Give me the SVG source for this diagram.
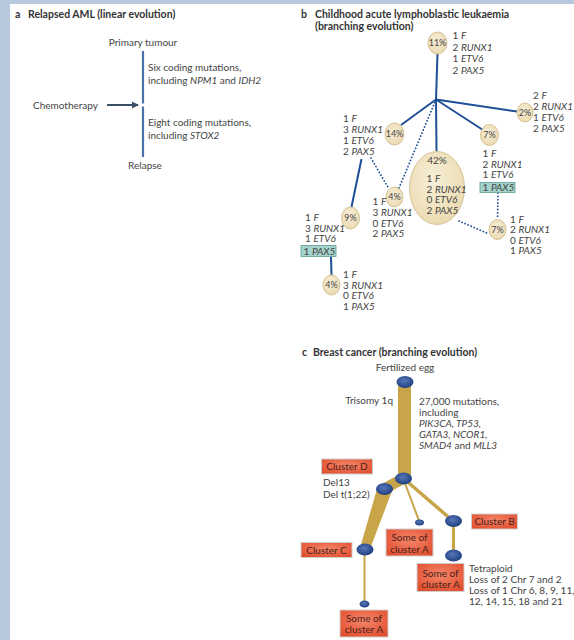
<svg xmlns="http://www.w3.org/2000/svg" width="574" height="640" viewBox="0 0 574 640">
<defs>
<style>
text{font-family:Lato,"Open Sans","Liberation Sans",sans-serif;fill:#444;font-size:10px}
.ttl{font-weight:bold;font-size:10.5px;fill:#333}
.i{font-style:italic}
.pc{font-size:9px;text-anchor:middle;fill:#444}
.mid{text-anchor:middle}
.bl{stroke:#1f4f96;stroke-width:2;fill:none}
.dot{stroke:#1f4f96;stroke-width:1.8;fill:none;stroke-dasharray:0.1 3.2;stroke-linecap:round}
.cl{fill:url(#cg);stroke:#cbb887;stroke-width:0.8}
.tb{fill:#a3d3cb;stroke:#5f9c94;stroke-width:0.8}
.rb{fill:url(#rg);stroke:#cfcfcf;stroke-width:1}
.rt{fill:#4a2018;font-size:10px;text-anchor:middle}
.nd{fill:url(#ng)}
.gd{stroke:#c9a54a;fill:none}
</style>
<radialGradient id="cg" cx="0.45" cy="0.4" r="0.65">
<stop offset="0" stop-color="#f7efd8"/><stop offset="1" stop-color="#ead9ae"/>
</radialGradient>
<radialGradient id="ng" cx="0.45" cy="0.4" r="0.6">
<stop offset="0" stop-color="#5677b8"/><stop offset="1" stop-color="#1f3f80"/>
</radialGradient>
<radialGradient id="rg" cx="0.5" cy="0.4" r="0.7">
<stop offset="0" stop-color="#f5866a"/><stop offset="1" stop-color="#e04c2c"/>
</radialGradient>
<marker id="ah" markerWidth="8" markerHeight="8" refX="6" refY="4" orient="auto" markerUnits="userSpaceOnUse">
<path d="M0,0.5 L7,4 L0,7.5 z" fill="#3b4f66"/>
</marker>
</defs>
<rect x="0" y="0" width="574" height="640" fill="#fff"/>
<rect x="0" y="0" width="574" height="4" fill="#b8c9de"/>
<rect x="0" y="0" width="10" height="640" fill="#b8c9de"/>

<!-- Panel a -->
<g id="panel-a">
<text x="15" y="18" class="ttl">a</text>
<text x="28" y="18" class="ttl">Relapsed AML (linear evolution)</text>
<g id="a-primary"><text x="143" y="46" class="mid">Primary tumour</text></g>
<g id="a-relapse"><text x="145" y="169" class="mid">Relapse</text></g>
<g id="a-chemo"><text x="33" y="109">Chemotherapy</text></g>
<text x="148" y="71">Six coding mutations,</text>
<text x="148" y="84">including <tspan class="i">NPM1</tspan> and <tspan class="i">IDH2</tspan></text>
<text x="148" y="126">Eight coding mutations,</text>
<text x="148" y="139">including <tspan class="i">STOX2</tspan></text>
</g>
<g id="a-connectors">
<line x1="143" y1="51" x2="143" y2="103.5" stroke="#4a72a8" stroke-width="2.2"/>
<line x1="143" y1="106.5" x2="143" y2="157" stroke="#4a72a8" stroke-width="2.2"/>
<line x1="107" y1="105" x2="138" y2="105" stroke="#3b4f66" stroke-width="2" marker-end="url(#ah)"/>
</g>

<!-- Panel b -->
<text x="301" y="18" class="ttl">b</text>
<text x="315" y="18" class="ttl">Childhood acute lymphoblastic leukaemia</text>
<text x="315" y="30" class="ttl">(branching evolution)</text>

<g id="b-connectors">
<line x1="437.5" y1="54" x2="436" y2="99.5" class="bl"/>
<line x1="436" y1="99.5" x2="517" y2="111.5" class="bl"/>
<line x1="436" y1="99.5" x2="401" y2="125" class="bl"/>
<line x1="436" y1="99.5" x2="483" y2="130" class="bl"/>
<line x1="436" y1="99.5" x2="436.5" y2="151" class="bl"/>
<line x1="436" y1="99.5" x2="399" y2="188" class="dot"/>
<line x1="371" y1="158" x2="389" y2="189" class="dot"/>
<line x1="361.5" y1="159" x2="351.5" y2="207" class="bl"/>
<line x1="331" y1="257" x2="331.5" y2="275" class="bl"/>
<line x1="498" y1="193" x2="497.5" y2="219" class="dot"/>
<line x1="459" y1="221" x2="489" y2="234" class="dot"/>
</g>

<g id="b-n11">
<ellipse cx="437.5" cy="43" rx="9.5" ry="11" class="cl"/>
<text x="437.5" y="46" class="pc">11%</text>
<text x="452.5" y="39">1 <tspan class="i">F</tspan></text>
<text x="452.5" y="50.5">2 <tspan class="i">RUNX1</tspan></text>
<text x="452.5" y="62">1 <tspan class="i">ETV6</tspan></text>
<text x="452.5" y="73.5">2 <tspan class="i">PAX5</tspan></text>
</g>
<g id="b-n2">
<ellipse cx="525" cy="112.5" rx="8" ry="9.5" class="cl"/>
<text x="525" y="115.5" class="pc">2%</text>
<text x="533" y="99">2 <tspan class="i">F</tspan></text>
<text x="533" y="110">2 <tspan class="i">RUNX1</tspan></text>
<text x="533" y="121">1 <tspan class="i">ETV6</tspan></text>
<text x="533" y="132">2 <tspan class="i">PAX5</tspan></text>
</g>
<g id="b-n14">
<ellipse cx="394.5" cy="134" rx="9.5" ry="11" class="cl"/>
<text x="394.5" y="137" class="pc">14%</text>
<text x="343" y="122">1 <tspan class="i">F</tspan></text>
<text x="343" y="133">3 <tspan class="i">RUNX1</tspan></text>
<text x="343" y="144">1 <tspan class="i">ETV6</tspan></text>
<text x="343" y="155">2 <tspan class="i">PAX5</tspan></text>
</g>
<g id="b-n7a">
<ellipse cx="489.5" cy="135" rx="9" ry="10.5" class="cl"/>
<text x="489.5" y="138" class="pc">7%</text>
<text x="482.5" y="157">1 <tspan class="i">F</tspan></text>
<text x="482.5" y="167.5">2 <tspan class="i">RUNX1</tspan></text>
<text x="482.5" y="178">1 <tspan class="i">ETV6</tspan></text>
<rect x="480" y="182.5" width="35" height="10" class="tb"/>
<text x="482.5" y="191">1 <tspan class="i">PAX5</tspan></text>
</g>
<g id="b-n42">
<ellipse cx="437" cy="188" rx="27.5" ry="36.5" class="cl"/>
<text x="437" y="164" class="mid">42%</text>
<text x="426.5" y="182">1 <tspan class="i">F</tspan></text>
<text x="426.5" y="192.5">2 <tspan class="i">RUNX1</tspan></text>
<text x="426.5" y="203">0 <tspan class="i">ETV6</tspan></text>
<text x="426.5" y="213.5">2 <tspan class="i">PAX5</tspan></text>
</g>
<g id="b-n4a">
<ellipse cx="394.5" cy="197" rx="8.5" ry="10" class="cl"/>
<text x="394.5" y="200" class="pc">4%</text>
<text x="372.5" y="205">1 <tspan class="i">F</tspan></text>
<text x="372.5" y="216">3 <tspan class="i">RUNX1</tspan></text>
<text x="372.5" y="226.5">0 <tspan class="i">ETV6</tspan></text>
<text x="372.5" y="237">2 <tspan class="i">PAX5</tspan></text>
</g>
<g id="b-n9">
<ellipse cx="350.5" cy="218" rx="9" ry="11" class="cl"/>
<text x="350.5" y="221" class="pc">9%</text>
<text x="305" y="221">1 <tspan class="i">F</tspan></text>
<text x="305" y="231.5">3 <tspan class="i">RUNX1</tspan></text>
<text x="305" y="242">1 <tspan class="i">ETV6</tspan></text>
<rect x="301" y="245.5" width="35" height="11" class="tb"/>
<text x="303.5" y="254.5">1 <tspan class="i">PAX5</tspan></text>
</g>
<g id="b-n7b">
<ellipse cx="497.5" cy="229.5" rx="8.5" ry="10" class="cl"/>
<text x="497.5" y="232.5" class="pc">7%</text>
<text x="510" y="222.5">1 <tspan class="i">F</tspan></text>
<text x="510" y="233">2 <tspan class="i">RUNX1</tspan></text>
<text x="510" y="243.5">0 <tspan class="i">ETV6</tspan></text>
<text x="510" y="254">1 <tspan class="i">PAX5</tspan></text>
</g>
<g id="b-n4b">
<ellipse cx="331.5" cy="285" rx="8.5" ry="10" class="cl"/>
<text x="331.5" y="288" class="pc">4%</text>
<text x="343" y="278">1 <tspan class="i">F</tspan></text>
<text x="343" y="288.5">3 <tspan class="i">RUNX1</tspan></text>
<text x="343" y="299">0 <tspan class="i">ETV6</tspan></text>
<text x="343" y="309.5">1 <tspan class="i">PAX5</tspan></text>
</g>

<!-- Panel c -->
<text x="302" y="356" class="ttl">c</text>
<text x="313" y="356" class="ttl">Breast cancer (branching evolution)</text>

<g id="c-connectors">
<rect x="398" y="382" width="13" height="96" fill="#c9a54a"/>
<line x1="404" y1="478" x2="384" y2="489" class="gd" stroke-width="11"/>
<polygon points="377,489 392,491 370,549 360,548" fill="#c9a54a"/>
<line x1="403" y1="478" x2="419.5" y2="522" class="gd" stroke-width="2"/>
<line x1="403" y1="478" x2="453" y2="521" class="gd" stroke-width="3.5"/>
<line x1="453.5" y1="521" x2="453.5" y2="555" class="gd" stroke-width="3"/>
<line x1="364.5" y1="549" x2="364.5" y2="604" class="gd" stroke-width="2"/>
</g>

<g id="c-egg">
<text x="405" y="371" class="mid">Fertilized egg</text>
<ellipse cx="405" cy="382" rx="8.5" ry="6" class="nd"/>
</g>
<text x="393" y="404" text-anchor="end">Trisomy 1q</text>
<text x="419" y="405">27,000 mutations,</text>
<text x="419" y="415.5">including</text>
<text x="419" y="426.5" class="i">PIK3CA, TP53,</text>
<text x="419" y="437.5" class="i">GATA3, NCOR1,</text>
<text x="419" y="448.5"><tspan class="i">SMAD4</tspan> and <tspan class="i">MLL3</tspan></text>

<g id="c-n1">
<ellipse cx="403.5" cy="478.5" rx="8.5" ry="6" class="nd"/>
</g>
<g id="c-clusterD">
<rect x="321.5" y="459" width="51" height="15" class="rb"/>
<text x="347" y="470" class="rt">Cluster D</text>
</g>
<g id="c-n2">
<ellipse cx="384.5" cy="489" rx="8.5" ry="6" class="nd"/>
<text x="323" y="486">Del13</text>
<text x="323" y="497.5">Del t(1;22)</text>
</g>
<g id="c-small">
<ellipse cx="419.5" cy="522.5" rx="4.5" ry="3" class="nd"/>
</g>
<g id="c-someA1">
<rect x="386" y="529" width="47" height="27" class="rb"/>
<text x="409.5" y="541" class="rt">Some of</text>
<text x="409.5" y="552.5" class="rt">cluster A</text>
</g>
<g id="c-nB">
<ellipse cx="453.5" cy="521" rx="8.5" ry="6" class="nd"/>
</g>
<g id="c-clusterB">
<rect x="471.5" y="514" width="46" height="15" class="rb"/>
<text x="494.5" y="525" class="rt">Cluster B</text>
</g>
<g id="c-nC">
<ellipse cx="365" cy="549.5" rx="8.5" ry="6" class="nd"/>
</g>
<g id="c-clusterC">
<rect x="301" y="542.5" width="51" height="15" class="rb"/>
<text x="326.5" y="553.5" class="rt">Cluster C</text>
</g>
<g id="c-nB2">
<ellipse cx="453.5" cy="555.5" rx="8.5" ry="6" class="nd"/>
</g>
<g id="c-someA2">
<rect x="417" y="563.5" width="47" height="28" class="rb"/>
<text x="440.5" y="576.5" class="rt">Some of</text>
<text x="440.5" y="587.5" class="rt">cluster A</text>
<text x="469" y="572">Tetraploid</text>
<text x="469" y="583">Loss of 2 Chr 7 and 2</text>
<text x="469" y="594">Loss of 1 Chr 6, 8, 9, 11,</text>
<text x="469" y="605">12, 14, 15, 18 and 21</text>
</g>
<g id="c-small2">
<ellipse cx="364.5" cy="604" rx="5" ry="3.5" class="nd"/>
</g>
<g id="c-someA3">
<rect x="340" y="610" width="48" height="27" class="rb"/>
<text x="364" y="622" class="rt">Some of</text>
<text x="364" y="633" class="rt">cluster A</text>
</g>
</svg>
